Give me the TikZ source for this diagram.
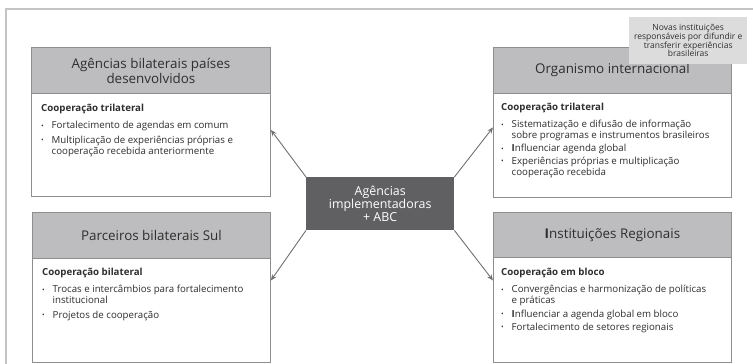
\documentclass[tikz,border=0pt]{standalone}
\usepackage{fontspec}
\setmainfont{Open Sans}
\usetikzlibrary{arrows.meta,calc}
\definecolor{hdrgray}{HTML}{BDBDBF}
\definecolor{edgegray}{HTML}{8E8E8E}
\definecolor{ctrgray}{HTML}{606062}
\definecolor{notegray}{HTML}{DCDCDC}
\definecolor{arrgray}{HTML}{707070}
\definecolor{framegray}{HTML}{C4C4C4}
\definecolor{txt}{HTML}{2E2E2E}
\newcommand\bul{\makebox[10.5pt][l]{\raisebox{0.6pt}{\scriptsize\textbullet}}}
\newcommand\ind{\hspace*{10.5pt}}
\begin{document}
\begin{tikzpicture}[x=1pt,y=-1pt,
  header/.style={draw=edgegray,fill=hdrgray,line width=0.9pt,anchor=north west,inner sep=0pt,
    align=center,font=\fontsize{13.4}{15}\selectfont,text=txt},
  bodybox/.style={draw=edgegray,fill=white,line width=0.9pt,anchor=north west,inner sep=0pt},
  content/.style={anchor=north west,inner sep=0pt,align=left,
    font=\fontsize{9.7}{11.2}\selectfont,text=txt},
  center/.style={fill=ctrgray,anchor=north west,inner sep=0pt,align=center,
    text=white,font=\fontsize{12.4}{13}\selectfont},
  note/.style={fill=notegray,anchor=north west,inner sep=0pt,align=center,
    text=txt,font=\fontsize{8.5}{8.7}\selectfont},
  conn/.style={draw=arrgray,line width=0.9pt,-{Stealth[length=6pt,width=5pt]}}]
\useasboundingbox (0,0) rectangle (753,364);
% frame
\draw[framegray,line width=1.5pt] (6,366) -- (6,9) -- (755,9);
% top-left
\node[bodybox,minimum width=239pt,minimum height=103pt] (tlb) at (31,93) {};
\node[header,minimum width=239pt,minimum height=46pt] (tlh) at (31,47) {Agências bilaterais países\\desenvolvidos};
\node[content] (tlc) at (41,104) {\textbf{Cooperação trilateral}\\[6pt]
\bul Fortalecimento de agendas em comum\\[3.5pt]
\bul Multiplicação de experiências próprias e\\
\ind cooperação recebida anteriormente};
% bottom-left
\node[bodybox,minimum width=238pt,minimum height=104pt] (blb) at (32,258) {};
\node[header,minimum width=238pt,minimum height=46pt] (blh) at (32,212) {Parceiros bilaterais Sul};
\node[content] (blc) at (42,268) {\textbf{Cooperação bilateral}\\[6pt]
\bul Trocas e intercâmbios para fortalecimento\\
\ind institucional\\[3pt]
\bul Projetos de cooperação};
% top-right
\node[bodybox,minimum width=238pt,minimum height=104pt] (trb) at (493,93) {};
\node[header,minimum width=238pt,minimum height=46pt] (trh) at (493,47) {Organismo internacional};
\node[content] (trc) at (501,103) {\textbf{Cooperação trilateral}\\[6pt]
\bul Sistematização e difusão de informação\\
\ind sobre programas e instrumentos brasileiros\\[1.5pt]
\bul \textbf{I}nfluenciar agenda global\\[1.5pt]
\bul Experiências próprias e multiplicação\\
\ind cooperação recebida};
% bottom-right
\node[bodybox,minimum width=238pt,minimum height=105pt] (brb) at (493,257) {};
\node[header,minimum width=238pt,minimum height=45pt] (brh) at (493,212) {\textbf{I}nstituições Regionais};
\node[content] (brc) at (501,268) {\textbf{Cooperação em bloco}\\[6pt]
\bul Convergências e harmonização de políticas\\
\ind e práticas\\[2pt]
\bul \textbf{I}nfluenciar a agenda global em bloco\\[2pt]
\bul Fortalecimento de setores regionais};
% note
\node[note,minimum width=118pt,minimum height=47pt] (note) at (629,17) {Novas instituições\\responsáveis por difundir e\\transferir experiências\\brasileiras};
% center
\node[center,minimum width=148pt,minimum height=53pt] (ctr) at (306,177) {Agências\\implementadoras\\+ ABC};
% connectors
\draw[conn] (ctr.north west) -- ([yshift=15pt]tlb.east);
\draw[conn] (ctr.north east) -- ([yshift=18pt]trb.west);
\draw[conn] (ctr.south west) -- ([yshift=30pt]blb.east);
\draw[conn] (ctr.south east) -- ([yshift=29.5pt]brb.west);
\end{tikzpicture}
\end{document}
